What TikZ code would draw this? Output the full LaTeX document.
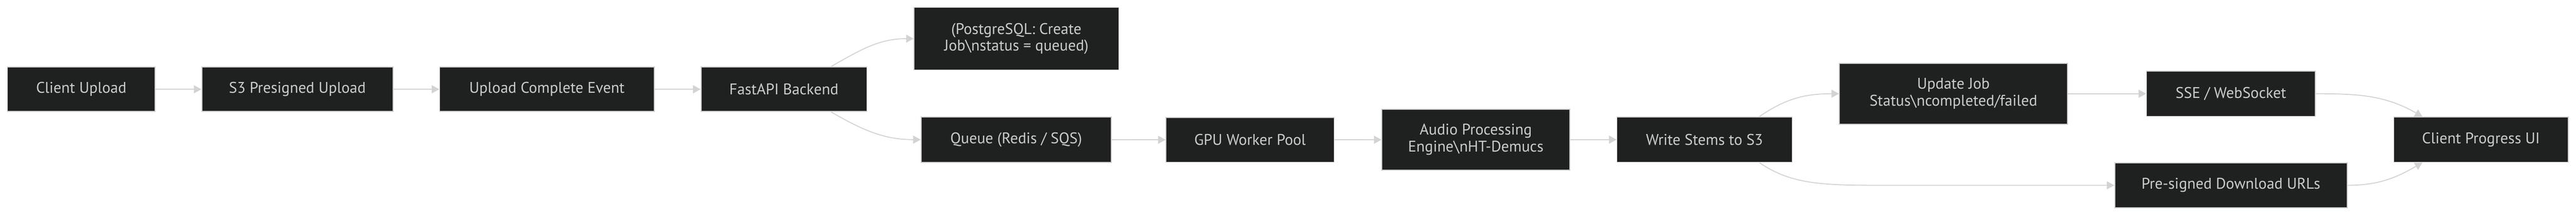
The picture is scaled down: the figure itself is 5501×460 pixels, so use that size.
\documentclass[tikz,border=0pt]{standalone}
\usepackage{fontspec}
\setmainfont{PT Sans}
\usetikzlibrary{arrows.meta}
\definecolor{nodefill}{HTML}{1F2020}
\definecolor{nodeline}{HTML}{CCCCCC}
\definecolor{nodetext}{HTML}{CCCCCC}
\definecolor{edgecol}{HTML}{D3D3D3}
\begin{document}
\begin{tikzpicture}[x=1pt,y=1pt,
  box/.style={draw=nodeline, line width=2pt, fill=nodefill, text=nodetext,
    inner sep=0pt, align=center, font=\fontsize{33}{36}\selectfont},
  conn/.style={draw=edgecol, line width=2pt, -{Triangle[length=16pt,width=17pt]}}]
\useasboundingbox[fill=white] (0,0) rectangle (5501,-460);

\node[box, minimum width=315pt, minimum height=95pt] (cu) at (173.5,-190.5) {Client Upload};
\node[box, minimum width=408pt, minimum height=95pt] (s3) at (635,-190.5) {S3 Presigned Upload};
\node[box, minimum width=458pt, minimum height=95pt] (uc) at (1168,-190.5) {Upload Complete Event};
\node[box, minimum width=354pt, minimum height=95pt] (fa) at (1674,-190.5) {FastAPI Backend};
\node[box, minimum width=437pt, minimum height=133pt] (pg) at (2170.5,-82.5) {(PostgreSQL: Create\\Job\textbackslash nstatus = queued)};
\node[box, minimum width=406pt, minimum height=97pt] (q) at (2170,-298) {Queue (Redis / SQS)};
\node[box, minimum width=359pt, minimum height=95pt] (gpu) at (2669.5,-298.5) {GPU Worker Pool};
\node[box, minimum width=401pt, minimum height=130pt] (ap) at (3151.5,-298) {Audio Processing\\Engine\textbackslash nHT-Demucs};
\node[box, minimum width=374pt, minimum height=96pt] (ws) at (3640,-298) {Write Stems to S3};
\node[box, minimum width=487pt, minimum height=130pt] (uj) at (4171.5,-200) {Update Job\\Status\textbackslash ncompleted/failed};
\node[box, minimum width=360pt, minimum height=96pt] (sse) at (4764,-200) {SSE / WebSocket};
\node[box, minimum width=496pt, minimum height=95pt] (pd) at (4764,-395.5) {Pre-signed Download URLs};
\node[box, minimum width=372pt, minimum height=96pt] (cp) at (5298,-298) {Client Progress UI};

\coordinate (bend) at (4050,-395.5);

\draw[conn] (cu) -- (s3);
\draw[conn] (s3) -- (uc);
\draw[conn] (uc) -- (fa);
\draw[conn] ([xshift=101pt]fa.north) to[out=30,in=180] (pg.west);
\draw[conn] ([xshift=101pt]fa.south) to[out=-30,in=180] (q.west);
\draw[conn] (q) -- (gpu);
\draw[conn] (gpu) -- (ap);
\draw[conn] (ap) -- (ws);
\draw[conn] ([xshift=117pt]ws.north) to[out=35,in=180] (uj.west);
\draw[conn] ([xshift=117pt]ws.south) .. controls ([xshift=190pt,yshift=-50pt]ws.south) and ([xshift=-150pt]bend) .. (bend) -- (pd.west);
\draw[conn] (uj) -- (sse);
\draw[conn] (sse.east) to[out=0,in=150] ([xshift=-125pt]cp.north);
\draw[conn] (pd.east) to[out=0,in=210] ([xshift=-125pt]cp.south);
\end{tikzpicture}
\end{document}
